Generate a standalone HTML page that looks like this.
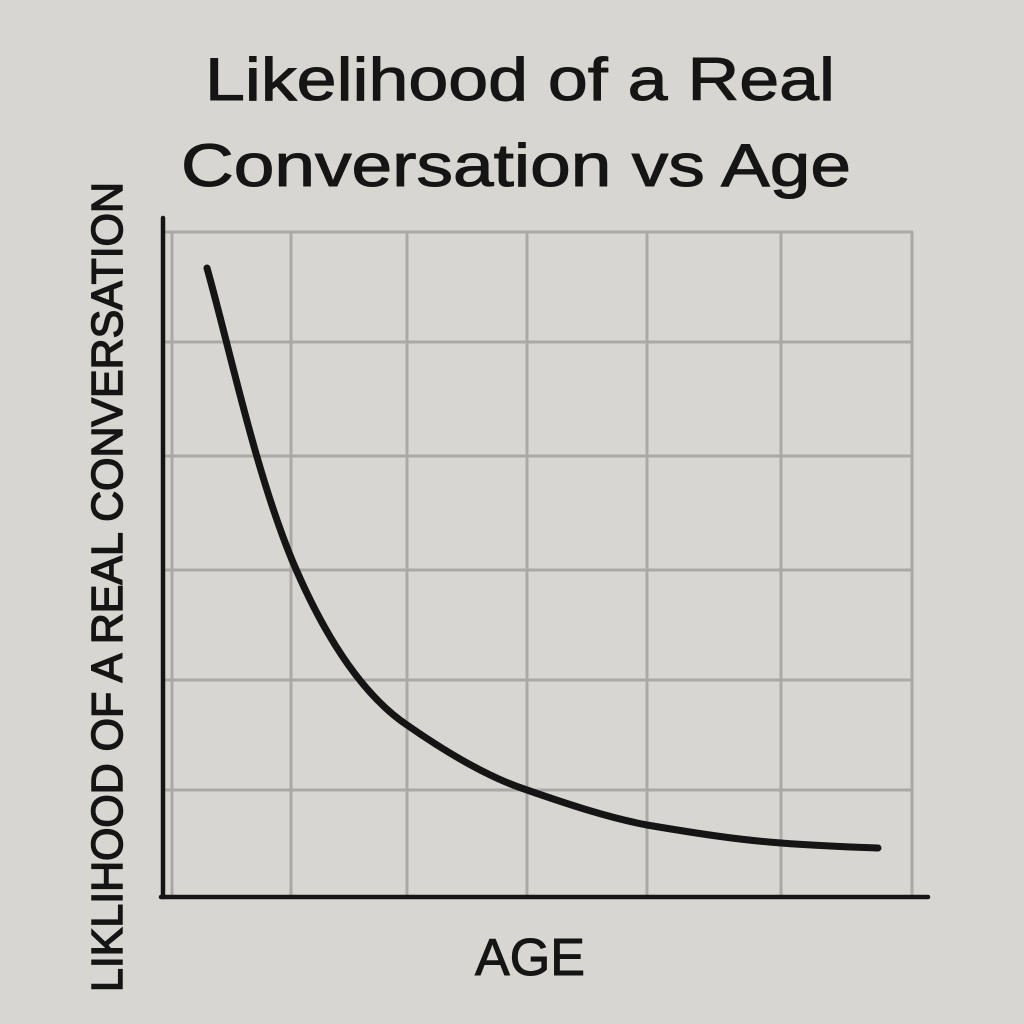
<!DOCTYPE html>
<html><head><meta charset="utf-8"><style>
html,body{margin:0;padding:0;background:#d8d6d1;}
svg{display:block;}
</style></head><body>
<svg width="1024" height="1024" viewBox="0 0 1024 1024" xmlns="http://www.w3.org/2000/svg">
<rect width="1024" height="1024" fill="#d8d6d1"/>
<g font-family="Liberation Sans, DejaVu Sans, sans-serif" fill="#151515" stroke="#151515" stroke-width="1">
<text x="520" y="100" font-size="60" text-anchor="middle" textLength="630" lengthAdjust="spacingAndGlyphs">Likelihood of a Real</text>
<text x="516" y="186" font-size="60" text-anchor="middle" textLength="670" lengthAdjust="spacingAndGlyphs">Conversation vs Age</text>
<text x="530" y="975" font-size="52" text-anchor="middle" textLength="110" lengthAdjust="spacingAndGlyphs">AGE</text>
<text transform="translate(122,587) rotate(-90)" font-size="44" text-anchor="middle" textLength="810" lengthAdjust="spacingAndGlyphs" stroke-width="1.5">LIKLIHOOD OF A REAL CONVERSATION</text>
</g>
<g stroke="#aaa9a5" stroke-width="3" fill="none">
<line x1="172" y1="232" x2="172" y2="895"/>
<line x1="291" y1="232" x2="291" y2="895"/>
<line x1="407" y1="232" x2="407" y2="895"/>
<line x1="527" y1="232" x2="527" y2="895"/>
<line x1="647" y1="232" x2="647" y2="895"/>
<line x1="781" y1="232" x2="781" y2="895"/>
<line x1="912" y1="232" x2="912" y2="895"/>
<line x1="165" y1="232" x2="913" y2="232"/>
<line x1="165" y1="342" x2="913" y2="342"/>
<line x1="165" y1="456" x2="913" y2="456"/>
<line x1="165" y1="570" x2="913" y2="570"/>
<line x1="165" y1="680" x2="913" y2="680"/>
<line x1="165" y1="790" x2="913" y2="790"/>
</g>
<g stroke="#151515" stroke-width="4.5" fill="none" stroke-linecap="round">
<line x1="163" y1="218" x2="163" y2="897"/>
<line x1="161" y1="897" x2="928" y2="897"/>
</g>
<path d="M207,268 C230,350 255,470 292,560 C330,650 370,700 407,725 C450,755 490,778 527,790 C570,805 610,818 647,825 C700,834 740,840 781,843 C820,846 850,847 878,848" stroke="#151515" stroke-width="7" fill="none" stroke-linecap="round"/>
</svg>
</body></html>
